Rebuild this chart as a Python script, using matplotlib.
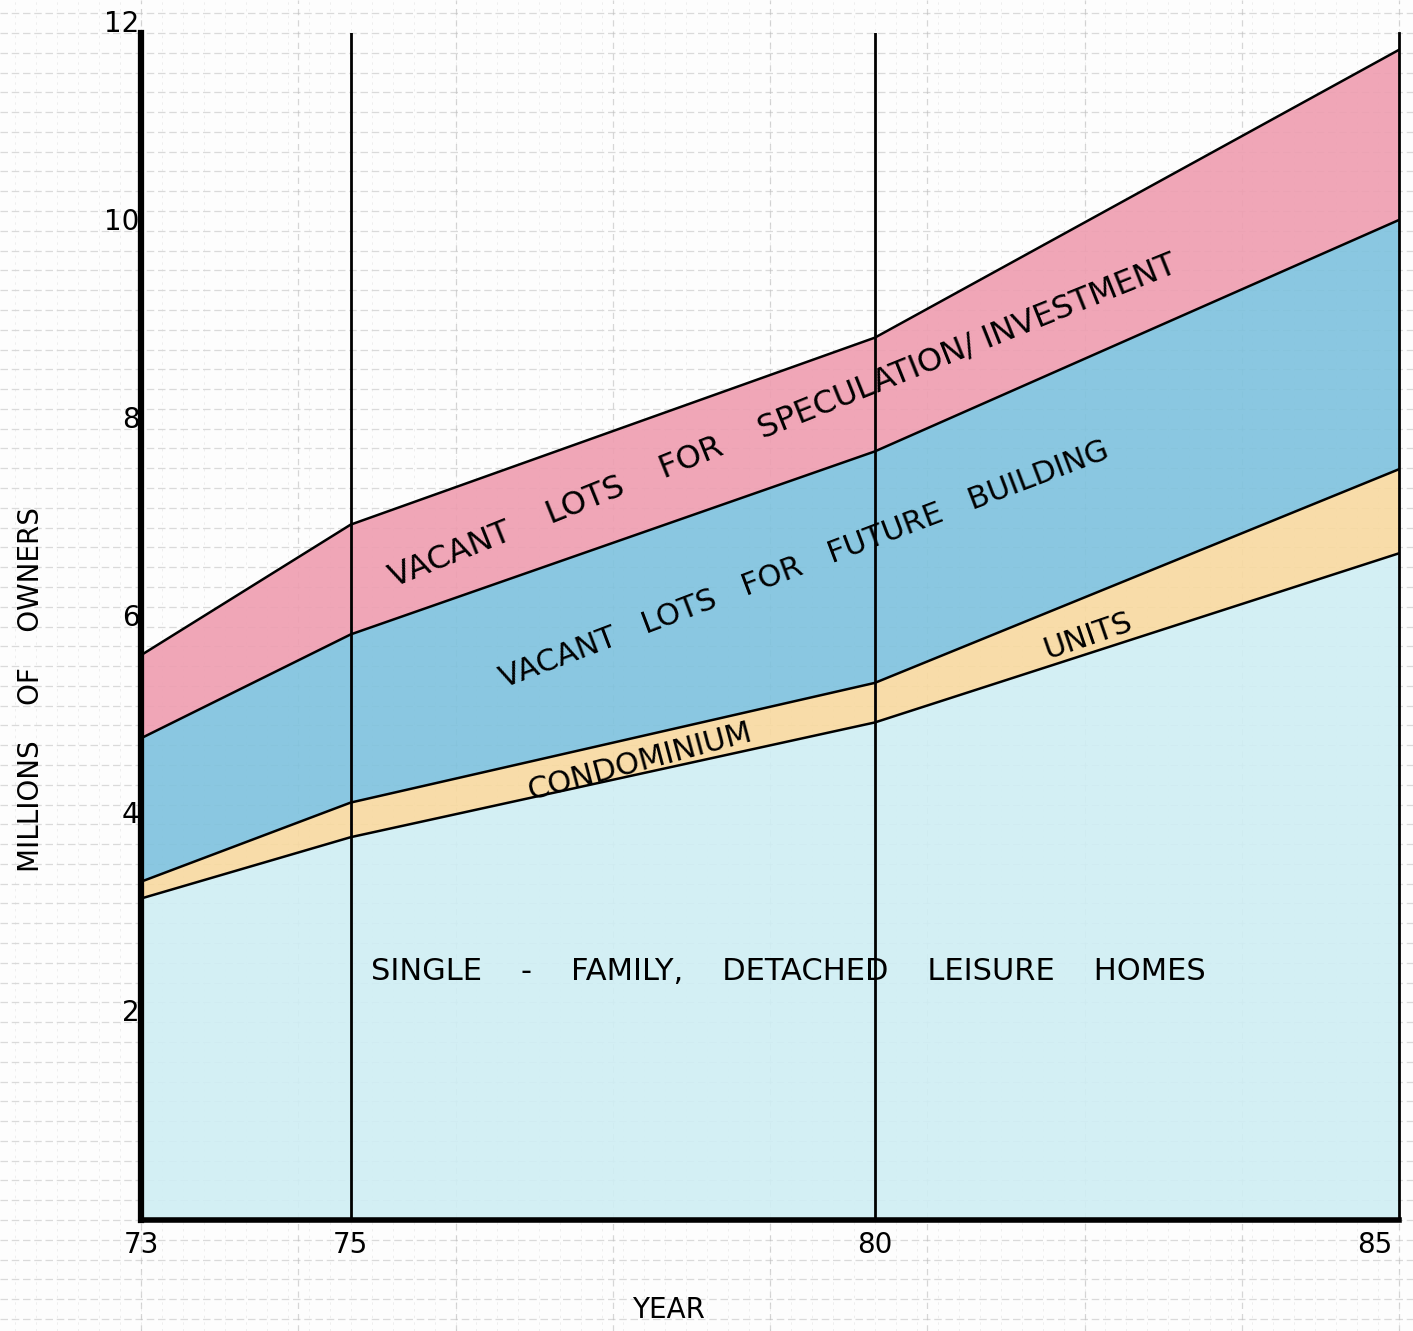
import matplotlib
matplotlib.use("Agg")
import matplotlib.pyplot as plt
import matplotlib.transforms as mtransforms
import numpy as np

# ---- data ----
years = [73, 75, 80, 85]
single_family = [3.25, 3.87, 5.03, 6.74]
condominium = [0.17, 0.35, 0.40, 0.85]
future_building = [1.45, 1.70, 2.34, 2.52]
speculation = [0.84, 1.11, 1.15, 1.72]
x_ticks = [73, 75, 80, 85]
x_tick_labels = ["73", "75", "80", "85"]
y_ticks = [2, 4, 6, 8, 10, 12]
y_tick_labels = ["2", "4", "6", "8", "10", "12"]

colors = ["#cfeef4", "#f8d9a0", "#7ec2de", "#ef9db0"]

plt.rcParams['font.family'] = ['DejaVu Sans']

W, H = 1413, 1331
fig = plt.figure(figsize=(W / 100, H / 100), dpi=100)
fig.patch.set_facecolor("#fdfdfd")

left_px, right_px, top_px, bottom_px = 141, 1399, 33, 1220
pos = [left_px / W, 1 - bottom_px / H, (right_px - left_px) / W, (bottom_px - top_px) / H]

xmin, xmax, ymin, ymax = 73, 85, 0, 12
# background graph paper axes covering the whole figure with matching scale
sx = (right_px - left_px) / (xmax - xmin)
sy = (bottom_px - top_px) / (ymax - ymin)
bg = fig.add_axes([0, 0, 1, 1], zorder=0)
bx0 = xmin - left_px / sx
bx1 = xmin + (W - left_px) / sx
by0 = ymin - (H - bottom_px) / sy
by1 = ymin + bottom_px / sy
bg.set_xlim(bx0, bx1)
bg.set_ylim(by0, by1)
bg.axis("off")
for gy in np.arange(-1.2, 12.6, 0.2):
    bg.axhline(gy, color="#c4c4c4", lw=0.9, ls=(0, (6, 3)), alpha=0.6)
for gx in np.arange(71.6, 85.4, 0.2):
    bg.axvline(gx, color="#d8d8d8", lw=0.6, ls=(0, (3, 5)), alpha=0.45)
for gx in np.arange(71.5, 85.4, 1.5):
    bg.axvline(gx, color="#bdbdbd", lw=0.9, ls=(0, (5, 4)), alpha=0.6)

ax = fig.add_axes(pos, zorder=1)
ax.patch.set_alpha(0)
ax.set_xlim(xmin, xmax)
ax.set_ylim(ymin, ymax)

stack = np.vstack([single_family, condominium, future_building, speculation])
cum = np.cumsum(stack, axis=0)
lower = np.zeros(len(years))
for i in range(stack.shape[0]):
    ax.fill_between(years, lower, cum[i], color=colors[i], alpha=0.9, lw=0, zorder=1)
    ax.plot(years, cum[i], color="black", lw=1.8, zorder=3)
    lower = cum[i]

for xv in [75, 80]:
    ax.axvline(xv, color="black", lw=2.0, zorder=4)

ax.spines["top"].set_visible(False)
ax.spines["left"].set_linewidth(4.5)
ax.spines["bottom"].set_linewidth(4)
ax.spines["right"].set_linewidth(2)
for s in ["left", "bottom", "right"]:
    ax.spines[s].set_zorder(5)

ax.set_xticks(x_ticks, x_tick_labels, fontsize=20)
ax.set_yticks(y_ticks, y_tick_labels, fontsize=20)
ax.tick_params(length=0, pad=1)
ax.tick_params(axis="x", pad=8)
off = mtransforms.ScaledTranslation(0, 12 / 100, fig.dpi_scale_trans)
for lab in ax.get_yticklabels():
    lab.set_transform(lab.get_transform() + off)
xl = ax.get_xticklabels()
xl[-1].set_transform(xl[-1].get_transform() + mtransforms.ScaledTranslation(-24 / 100, 0, fig.dpi_scale_trans))

ax.text(78.03, -0.91, "YEAR", fontsize=20, ha="center", va="center", clip_on=False)
ax.text(71.95, 5.36, "MILLIONS    OF    OWNERS", fontsize=20, ha="center", va="center",
        rotation=90, clip_on=False)

tkw = dict(ha="center", va="center", rotation_mode="anchor", zorder=6)
ax.text(79.12, 8.08, "VACANT    LOTS    FOR    SPECULATION/ INVESTMENT", rotation=21.9,
        fontsize=23, **tkw)
ax.text(79.33, 6.62, "VACANT   LOTS   FOR   FUTURE   BUILDING", rotation=20.8, fontsize=22, **tkw)
ax.text(77.76, 4.63, "CONDOMINIUM", rotation=15, fontsize=22, **tkw)
ax.text(82.03, 5.9, "UNITS", rotation=19, fontsize=22, **tkw)
ax.text(79.18, 2.51, "SINGLE    -    FAMILY,    DETACHED    LEISURE    HOMES", rotation=0,
        fontsize=22, **tkw)

fig.savefig("out.png", dpi=100, facecolor=fig.get_facecolor())
